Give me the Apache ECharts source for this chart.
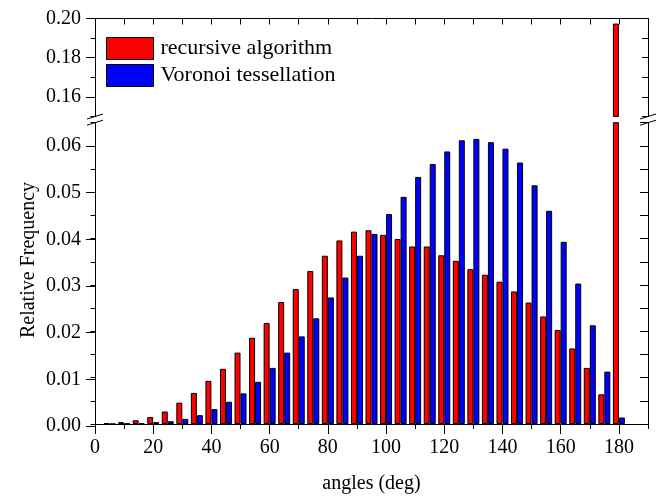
<!DOCTYPE html>
<html>
<head>
<meta charset="utf-8">
<script src="https://cdn.jsdelivr.net/npm/echarts@6/dist/echarts.min.js"></script>
<style>
  html, body { margin: 0; padding: 0; background: #fff; }
  #chart { width: 670px; height: 499px; }
</style>
</head>
<body>
<div id="chart"></div>
<script>
// Angle bins (deg), bin centres
const angles = [5, 10, 15, 20, 25, 30, 35, 40, 45, 50, 55, 60, 65, 70, 75, 80, 85, 90,
                95, 100, 105, 110, 115, 120, 125, 130, 135, 140, 145, 150, 155, 160, 165, 170, 175, 180];

// Relative frequency, recursive algorithm
const recursive = [0.0002, 0.0004, 0.0008, 0.0015, 0.0027, 0.0046, 0.0067, 0.0093, 0.0119, 0.0154,
                   0.0186, 0.0218, 0.0263, 0.0291, 0.0330, 0.0363, 0.0396, 0.0415, 0.0418, 0.0408,
                   0.0399, 0.0383, 0.0383, 0.0364, 0.0352, 0.0334, 0.0322, 0.0307, 0.0286, 0.0262,
                   0.0232, 0.0203, 0.0163, 0.0121, 0.0064, 0.1974];

// Relative frequency, Voronoi tessellation
const voronoi = [0.0000, 0.0001, 0.0002, 0.0004, 0.0006, 0.0011, 0.0019, 0.0032, 0.0048, 0.0066,
                 0.0091, 0.0121, 0.0154, 0.0189, 0.0228, 0.0273, 0.0316, 0.0363, 0.0410, 0.0453,
                 0.0490, 0.0533, 0.0561, 0.0588, 0.0612, 0.0615, 0.0608, 0.0594, 0.0564, 0.0515,
                 0.0460, 0.0393, 0.0303, 0.0213, 0.0113, 0.0014];

const seriesNames = ['recursive algorithm', 'Voronoi tessellation'];

// Broken y axis: upper and lower value ranges
const upperRange = [0.15, 0.20];
const upperLabelRange = [0.16, 0.20];
const lowerRange = [0, 0.065];
const lowerLabelRange = [0, 0.06];
const xRange = [0, 190];
const xLabelMax = 180;

// ---- layout ----
const FONT = 'Liberation Serif';
const plotLeft = 95, plotRight = 648;
const plotTop = 18.5, upperBottom = 116.5;
const lowerTop = 122.7, plotBottom = 426;
const plotW = plotRight - plotLeft;
const upperScale = (upperBottom - plotTop) / (upperRange[1] - upperRange[0]);
const lowerScale = (plotBottom - lowerTop) / (lowerRange[1] - lowerRange[0]);
const xScale = plotW / (xRange[1] - xRange[0]);

const black = '#000';
const lineStyle = { color: black, width: 1 };
const labelStyle = { color: black, fontFamily: FONT, fontSize: 20 };

function pairs(values, keep) {
  return angles.map((a, i) => [a, keep(values[i]) ? values[i] : '-']);
}

function barSeries(name, color, values, xi, yi, keep) {
  return {
    name: name,
    type: 'bar',
    xAxisIndex: xi,
    yAxisIndex: yi,
    barWidth: 6,
    barGap: '0%',
    clip: true,
    itemStyle: { color: color, borderColor: black, borderWidth: 1 },
    data: pairs(values, keep)
  };
}

const chart = echarts.init(document.getElementById('chart'), null, { renderer: 'canvas' });

const option = {
  animation: false,
  backgroundColor: '#fff',
  textStyle: { fontFamily: FONT, color: black },
  grid: [
    // upper bars
    { left: plotLeft, width: plotW, top: plotTop, height: upperBottom - plotTop },
    // upper labelled ticks
    { left: plotLeft, width: plotW, top: plotTop,
      height: (upperLabelRange[1] - upperLabelRange[0]) * upperScale },
    // lower bars
    { left: plotLeft, width: plotW, top: lowerTop, height: plotBottom - lowerTop },
    // lower labelled ticks
    { left: plotLeft, width: (xLabelMax - xRange[0]) * xScale,
      top: plotBottom - (lowerLabelRange[1] - lowerLabelRange[0]) * lowerScale,
      height: (lowerLabelRange[1] - lowerLabelRange[0]) * lowerScale }
  ],
  xAxis: [
    { gridIndex: 0, type: 'value', position: 'top', min: xRange[0], max: xRange[1], interval: 10,
      axisLine: { lineStyle: lineStyle }, axisTick: { inside: true, length: 6, lineStyle: lineStyle },
      axisLabel: { show: false }, splitLine: { show: false } },
    { gridIndex: 1, type: 'value', show: false, min: xRange[0], max: xRange[1] },
    { gridIndex: 2, type: 'value', position: 'bottom', min: xRange[0], max: xRange[1], interval: 10,
      axisLine: { onZero: false, lineStyle: lineStyle }, axisTick: { length: 5, lineStyle: lineStyle },
      axisLabel: { show: false }, splitLine: { show: false },
      name: 'angles (deg)', nameLocation: 'middle', nameGap: 50,
      nameTextStyle: { color: black, fontFamily: FONT, fontSize: 20 } },
    { gridIndex: 3, type: 'value', position: 'bottom', min: xRange[0], max: xLabelMax, interval: 20,
      axisLine: { show: false }, axisTick: { length: 8, lineStyle: lineStyle },
      axisLabel: Object.assign({ margin: 12 }, labelStyle), splitLine: { show: false } }
  ],
  yAxis: [
    { gridIndex: 0, type: 'value', position: 'left', min: upperRange[0], max: upperRange[1], interval: 0.01,
      axisLine: { show: true, lineStyle: lineStyle }, axisTick: { show: true, length: 4.5, lineStyle: lineStyle },
      axisLabel: { show: false }, splitLine: { show: false } },
    { gridIndex: 0, type: 'value', position: 'right', min: upperRange[0], max: upperRange[1], interval: 0.01,
      axisLine: { show: true, lineStyle: lineStyle }, axisTick: { show: true, inside: true, length: 6, lineStyle: lineStyle },
      axisLabel: { show: false }, splitLine: { show: false } },
    { gridIndex: 1, type: 'value', position: 'left', min: upperLabelRange[0], max: upperLabelRange[1], interval: 0.02,
      axisLine: { show: false }, axisTick: { show: true, length: 9, lineStyle: lineStyle },
      axisLabel: Object.assign({ margin: 14, formatter: v => v.toFixed(2) }, labelStyle),
      splitLine: { show: false } },
    { gridIndex: 2, type: 'value', position: 'left', min: lowerRange[0], max: lowerRange[1], interval: 0.005,
      axisLine: { show: true, lineStyle: lineStyle }, axisTick: { show: true, length: 4.5, lineStyle: lineStyle },
      axisLabel: { show: false }, splitLine: { show: false } },
    { gridIndex: 2, type: 'value', position: 'right', min: lowerRange[0], max: lowerRange[1], interval: 0.005,
      axisLine: { show: true, lineStyle: lineStyle }, axisTick: { show: true, inside: true, length: 8, lineStyle: lineStyle },
      axisLabel: { show: false }, splitLine: { show: false } },
    { gridIndex: 3, type: 'value', position: 'left', min: lowerLabelRange[0], max: lowerLabelRange[1], interval: 0.01,
      axisLine: { show: false }, axisTick: { show: true, length: 9, lineStyle: lineStyle },
      axisLabel: Object.assign({ margin: 14, formatter: v => v.toFixed(2) }, labelStyle),
      splitLine: { show: false } }
  ],
  legend: {
    data: seriesNames,
    orient: 'vertical',
    left: 106,
    top: 37,
    padding: 0,
    itemWidth: 47,
    itemHeight: 22,
    itemGap: 4,
    icon: 'rect',
    itemStyle: { borderColor: black, borderWidth: 1 },
    textStyle: { color: black, fontFamily: FONT, fontSize: 22, padding: [0, 0, 0, 2] },
    selectedMode: false
  },
  series: [
    barSeries(seriesNames[0], '#ff0000', recursive, 0, 0, v => v > upperRange[0]),
    barSeries(seriesNames[1], '#0000ff', voronoi, 0, 0, v => v > upperRange[0]),
    barSeries(seriesNames[0], '#ff0000', recursive, 2, 3, v => true),
    barSeries(seriesNames[1], '#0000ff', voronoi, 2, 3, v => true)
  ],
  graphic: [
    // axis break marks
    { type: 'line', shape: { x1: plotLeft - 8, y1: upperBottom + 2.5, x2: plotLeft + 8, y2: upperBottom - 2.5 }, style: { stroke: black, lineWidth: 1 } },
    { type: 'line', shape: { x1: plotLeft - 8, y1: lowerTop + 2.5, x2: plotLeft + 8, y2: lowerTop - 2.5 }, style: { stroke: black, lineWidth: 1 } },
    { type: 'line', shape: { x1: plotRight - 8, y1: upperBottom + 2.5, x2: plotRight + 8, y2: upperBottom - 2.5 }, style: { stroke: black, lineWidth: 1 } },
    { type: 'line', shape: { x1: plotRight - 8, y1: lowerTop + 2.5, x2: plotRight + 8, y2: lowerTop - 2.5 }, style: { stroke: black, lineWidth: 1 } },
    // y axis title
    { type: 'text', x: 29, y: 260, rotation: Math.PI / 2,
      style: { text: 'Relative Frequency', fill: black, font: '20px "' + FONT + '"', textAlign: 'center', textVerticalAlign: 'middle' } }
  ]
};

chart.setOption(option);
</script>
</body>
</html>
